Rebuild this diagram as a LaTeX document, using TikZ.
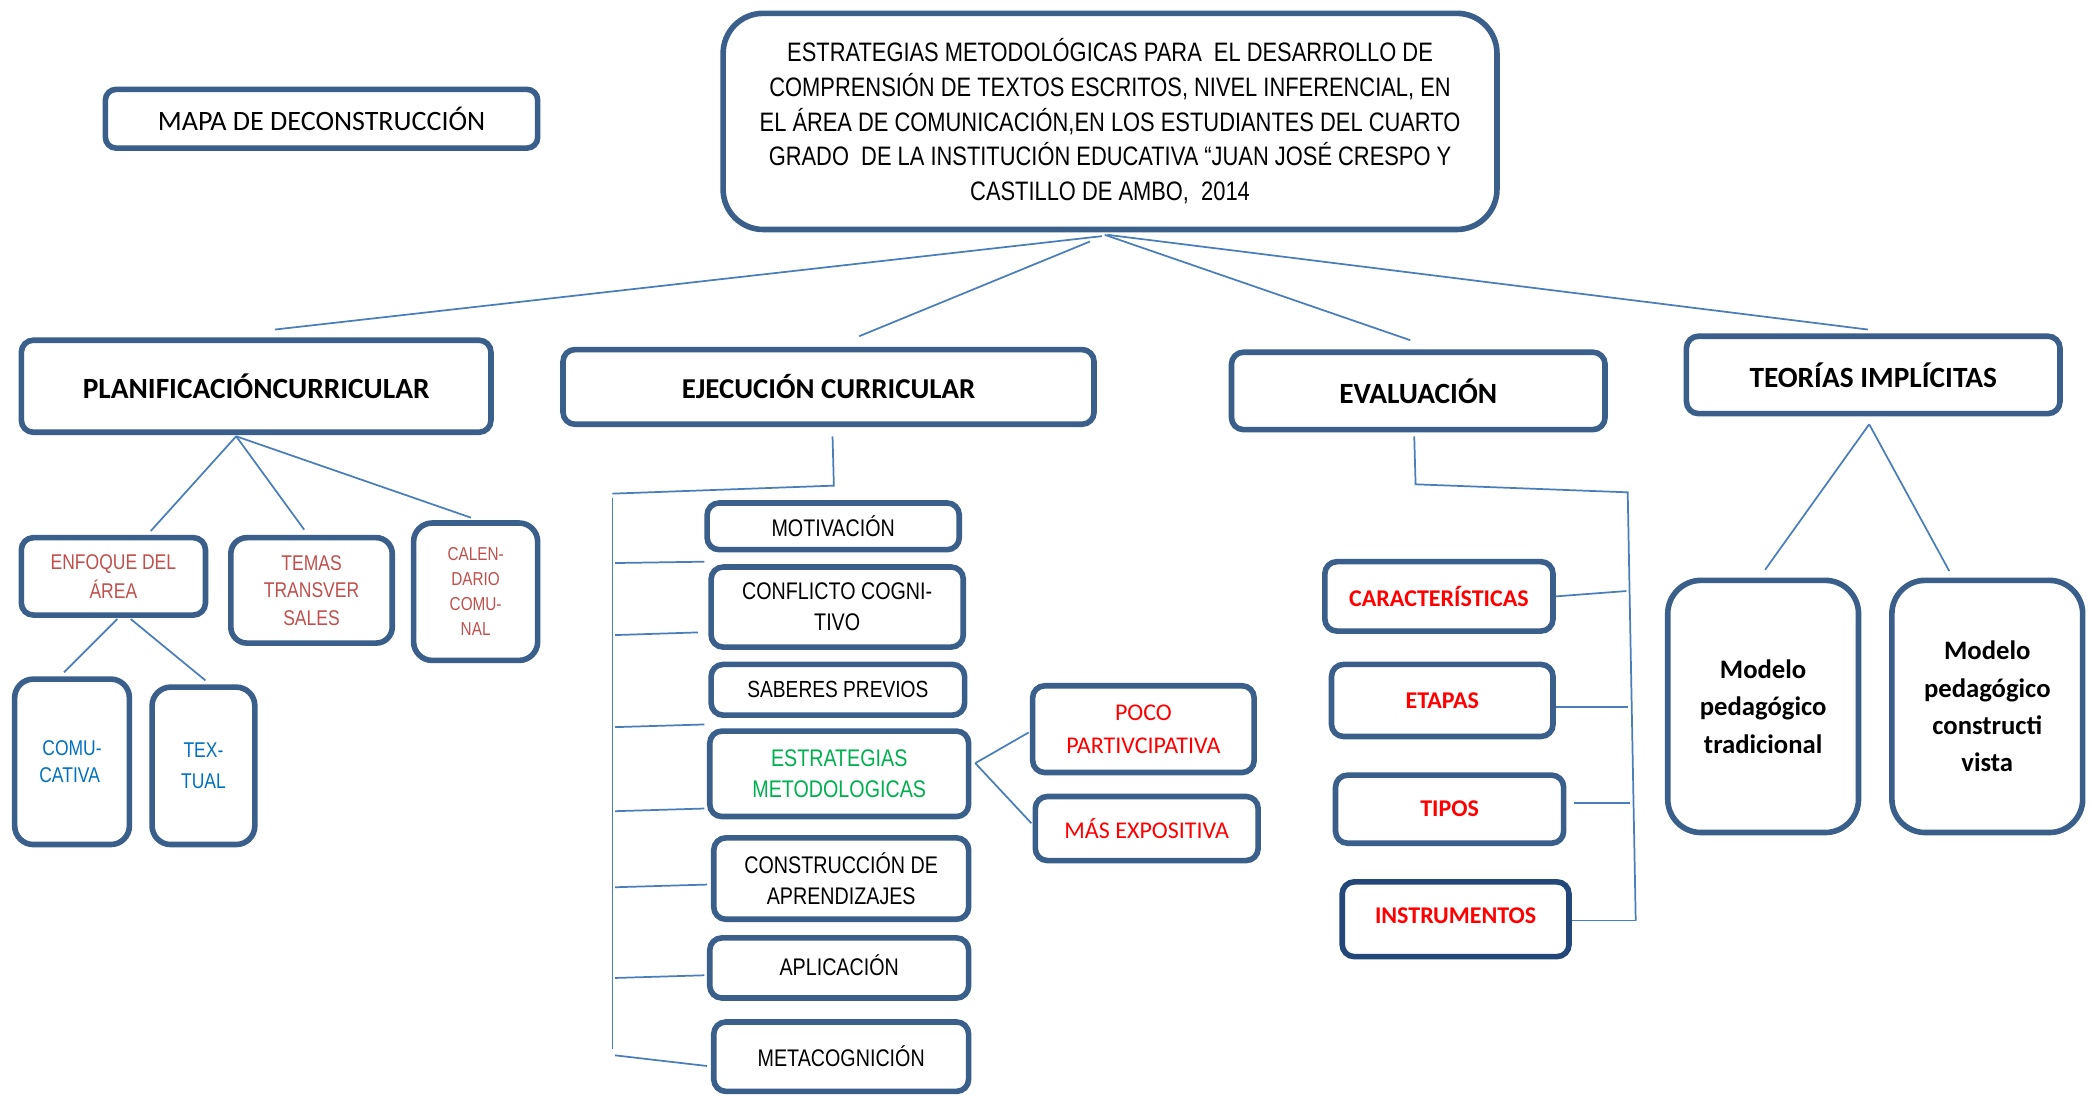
\documentclass[tikz,border=0pt]{standalone}
\usepackage{fontspec}
\setmainfont{Carlito}
\newfontfamily\narrowfont[FakeStretch=0.82]{Liberation Sans}
\definecolor{boxblue}{HTML}{3A5F8B}
\definecolor{boxdark}{HTML}{24477A}
\definecolor{lineblue}{HTML}{4A7EBB}
\definecolor{redsoft}{HTML}{C0504D}
\definecolor{bluetxt}{HTML}{0070C0}
\definecolor{greentxt}{HTML}{00B050}
\definecolor{redtxt}{HTML}{FF0000}
\tikzset{
  box/.style={draw=boxblue, line width=4.2pt, rounded corners=9pt, fill=white, align=center, inner sep=0pt},
  sz/.style 2 args={minimum width=#1pt, minimum height=#2pt},
  nar/.style 2 args={font=\narrowfont\fontsize{#1}{#2}\selectfont},
  cal/.style 2 args={font=\fontsize{#1}{#2}\selectfont},
  calb/.style 2 args={font=\bfseries\fontsize{#1}{#2}\selectfont},
  conn/.style={draw=lineblue, line width=1.3pt},
}
\begin{document}
\begin{tikzpicture}[x=1pt,y=-1pt]
\useasboundingbox (0,0) rectangle (1568,821);
\fill[white] (0,0) rectangle (1568,821);

% ---------- top ----------
\node[box, rounded corners=30pt, sz={580}{162}, nar={20}{26}] (main) at (832,91)
 {ESTRATEGIAS METODOLÓGICAS PARA~ EL DESARROLLO DE\\
  COMPRENSIÓN DE TEXTOS ESCRITOS, NIVEL INFERENCIAL, EN\\
  EL ÁREA DE COMUNICACIÓN,EN LOS ESTUDIANTES DEL CUARTO\\
  GRADO~ DE LA INSTITUCIÓN EDUCATIVA “JUAN JOSÉ CRESPO Y\\
  CASTILLO DE AMBO,~ 2014};
\node[box, rounded corners=8pt, sz={324}{44}, cal={21}{24}] (mapa) at (241,89) {MAPA DE DECONSTRUCCIÓN};

% ---------- level 1 ----------
\node[box, sz={352}{69}, calb={22}{25}] (plan) at (192,289.5) {PLANIFICACIÓNCURRICULAR};
\node[box, sz={398}{56}, calb={21.6}{25}] (ejec) at (621,290) {EJECUCIÓN CURRICULAR};
\node[box, sz={280}{58}, calb={22}{25}] (eval) at (1063,293) {EVALUACIÓN};
\node[box, sz={280}{58}, calb={22}{25}] (teor) at (1404,281) {TEORÍAS IMPLÍCITAS};

% ---------- planificacion ----------
\node[box, sz={138}{58}, nar={16}{22}, text=redsoft] (enfo) at (85,432) {ENFOQUE DEL\\ÁREA};
\node[box, rounded corners=12pt, sz={121}{79}, nar={16}{20.5}, text=redsoft] (tema) at (233.5,442.5) {TEMAS\\TRANSVER\\SALES};
\node[box, rounded corners=14pt, sz={93}{103}, nar={14}{18.7}, text=redsoft] (cale) at (356.5,443.5) {CALEN-\\DARIO\\COMU-\\NAL};
\node[box, rounded corners=14pt, sz={86}{124}, nar={16}{20}, text=bluetxt] (comu) at (54,571) {COMU-\\CATIVA\phantom{I}};
\node[box, rounded corners=14pt, sz={77}{118}, nar={16}{23}, text=bluetxt] (text) at (152.5,574) {TEX-\\TUAL};

% ---------- ejecucion ----------
\node[box, sz={189}{35}, nar={18}{23}] (moti) at (624.5,394.5) {\raisebox{-2pt}{MOTIVACIÓN}};
\node[box, sz={189}{60}, nar={18}{23}] (conf) at (627.5,455) {CONFLICTO COGNI-\\TIVO};
\node[box, sz={190}{38}, nar={17.5}{23}] (sabe) at (628,517) {SABERES PREVIOS};
\node[box, sz={194}{64}, nar={18}{23}, text=greentxt] (estr) at (629,580) {ESTRATEGIAS\\METODOLOGICAS};
\node[box, sz={191}{61}, nar={18}{23}] (cons) at (630.5,658.5) {CONSTRUCCIÓN DE\\APRENDIZAJES};
\node[box, sz={194}{45}, nar={18}{23}] (apli) at (629,725.5) {\raisebox{4pt}{APLICACIÓN}};
\node[box, sz={191}{52}, nar={18}{23}] (meta) at (630.5,792) {METACOGNICIÓN};
\node[box, sz={166}{65}, cal={18}{25}, text=redtxt] (poco) at (857,546.5) {POCO\\PARTIVCIPATIVA};
\node[box, sz={167}{48}, cal={18}{25}, text=redtxt] (maex) at (859.5,621) {MÁS EXPOSITIVA};

% ---------- evaluacion ----------
\node[box, sz={171}{52}, calb={18}{22}, text=redtxt] (cara) at (1078.5,447) {CARACTERÍSTICAS};
\node[box, sz={166}{54}, calb={18}{22}, text=redtxt] (etap) at (1081,525) {ETAPAS};
\node[box, sz={171}{51}, calb={18}{22}, text=redtxt] (tipo) at (1086.5,606.5) {TIPOS};
\node[box, draw=boxdark, sz={170}{56}, calb={18}{22}, text=redtxt] (inst) at (1091,689) {\raisebox{5pt}{INSTRUMENTOS}};

% ---------- teorias ----------
\node[box, rounded corners=25pt, sz={143}{189}, calb={20}{28}] (modt) at (1321.5,529.5) {Modelo\\pedagógico\\tradicional};
\node[box, rounded corners=25pt, sz={143}{189}, calb={20}{28}] (modc) at (1489.5,529.5) {Modelo\\pedagógico\\constructi\\vista};

% ---------- connector points ----------
\coordinate (mA) at (826,177);
\coordinate (mB) at (817,181);
\coordinate (mC) at (828,176);
\coordinate (mD) at (830,176);
\coordinate (pIn) at (206,247);
\coordinate (eIn) at (644,252);
\coordinate (vIn) at (1057,255);
\coordinate (tIn) at (1400,247);

\draw[conn] (mA) -- (pIn);
\draw[conn] (mB) -- (eIn);
\draw[conn] (mC) -- (vIn);
\draw[conn] (mD) -- (tIn);

% planificacion
\coordinate (pA) at (177,327);
\coordinate (enA) at (113,398);
\coordinate (teA) at (228,397);
\coordinate (caA) at (353,388);
\draw[conn] (pA) -- (enA);
\draw[conn] (pA) -- (teA);
\draw[conn] (pA) -- (caA);
\coordinate (enB1) at (88,464);
\coordinate (enB2) at (98,464);
\coordinate (coA) at (48,504);
\coordinate (txA) at (154,510);
\draw[conn] (enB1) -- (coA);
\draw[conn] (enB2) -- (txA);

% ejecucion
\coordinate (ejA) at (624,327);
\coordinate (ejB) at (625,364);
\coordinate (ejC) at (459,370);
\coordinate (ejT) at (459,373);
\coordinate (ejE) at (459,786);
\draw[conn] (ejA) -- (ejB) -- (ejC);
\draw[conn] (ejT) -- (ejE);
\foreach \ya/\xb/\yb [count=\i] in {422/528/421, 476/523/474, 545/528/543, 608/528/606, 665/530/663, 733/528/731, 791/530/799}{
  \coordinate (br\i a) at (461,\ya);
  \coordinate (br\i b) at (\xb,\yb);
  \draw[conn] (br\i a) -- (br\i b);
}
\coordinate (esA) at (731,572);
\coordinate (pcA) at (771,549);
\coordinate (mxA) at (773,617);
\draw[conn] (esA) -- (pcA);
\draw[conn] (esA) -- (mxA);

% evaluacion
\coordinate (evA) at (1060,327);
\coordinate (evB) at (1061,363);
\coordinate (evC) at (1220,369);
\coordinate (evD) at (1226,690);
\draw[conn] (evA) -- (evB) -- (evC) -- (evD);
\coordinate (caT) at (1219,443);
\coordinate (etT) at (1220,530);
\coordinate (tiS) at (1180,602);
\coordinate (tiT) at (1222,602);
\coordinate (inT) at (1226,690);
\draw[conn] (cara.east) -- (caT);
\draw[conn] (etap.east |- etT) -- (etT);
\draw[conn] (tiS) -- (tiT);
\draw[conn] (inst.east |- inT) -- (inT);

% teorias
\coordinate (thA) at (1401,318);
\coordinate (mtA) at (1323,427);
\coordinate (mcA) at (1461,428);
\draw[conn] (thA) -- (mtA);
\draw[conn] (thA) -- (mcA);
\end{tikzpicture}
\end{document}
